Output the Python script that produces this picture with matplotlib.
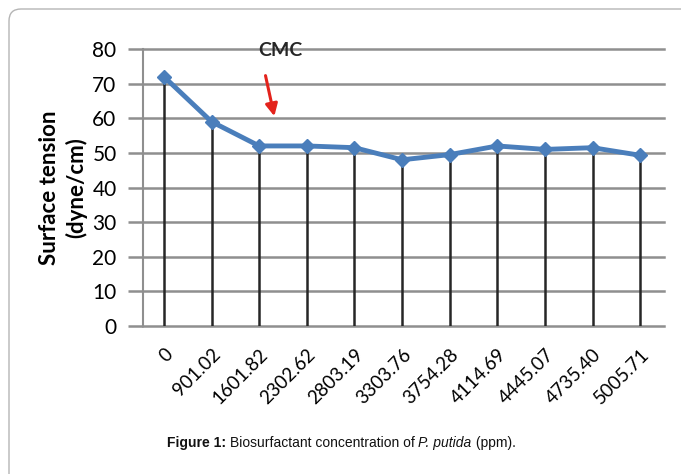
import numpy as np
import matplotlib.pyplot as plt
from matplotlib.patches import FancyBboxPatch

# data
concentration = ['0', '901.02', '1601.82', '2302.62', '2803.19', '3303.76',
                 '3754.28', '4114.69', '4445.07', '4735.40', '5005.71']
surface_tension = [72, 59, 52, 52, 51.5, 48, 49.5, 52, 51, 51.5, 49.3]
y_ticks = [0, 10, 20, 30, 40, 50, 60, 70, 80]

tick_font = 'Lato'
cap_font = 'Liberation Sans'

fig = plt.figure(figsize=(6.81, 4.74), dpi=100)
ax = fig.add_axes([143/681, 1-326/474, (664-143)/681, (326-49)/474])

x = np.arange(len(concentration))

# horizontal gridlines (Excel style)
for v in y_ticks:
    ax.axhline(v, color='#8f8f8f', lw=1.8, zorder=1, clip_on=False)

# drop lines from each point to the axis
ax.vlines(x, 0, surface_tension, color='#262626', lw=1.8, zorder=2)

ax.plot(x, surface_tension, color='#4a7ebb', lw=3.5, marker='D', markersize=7,
        markerfacecolor='#4a7ebb', markeredgecolor='#4a7ebb', zorder=3)

ax.set_xlim(-0.44, 10.5)
ax.set_ylim(0, 80)
ax.set_yticks(y_ticks)
ax.set_yticklabels([str(v) for v in y_ticks], fontsize=15, family=tick_font)
ax.set_xticks(x)
ax.set_xticklabels(concentration, rotation=45, ha='right', va='top',
                   rotation_mode='anchor', fontsize=13.5, family=tick_font)
ax.tick_params(axis='y', length=11, width=1.8, color='#8f8f8f', pad=8)
ax.tick_params(axis='x', length=0, pad=14)

for s in ['top', 'right', 'bottom']:
    ax.spines[s].set_visible(False)
ax.spines['left'].set_color('#8f8f8f')
ax.spines['left'].set_linewidth(1.5)

ax.set_ylabel('Surface tension\n(dyne/cm)', fontsize=16, fontweight='bold',
              family=tick_font, labelpad=4, linespacing=1.25)

# CMC annotation
ax.text(2.44, 79.5, 'CMC', ha='center', va='center', fontsize=14,
        fontweight='bold', family=tick_font, color='#262626', zorder=4)
ax.annotate('', xy=(2.33, 59.8), xytext=(2.12, 73.1),
            arrowprops=dict(arrowstyle='-|>', color='#e3231c', lw=2.2,
                            mutation_scale=18), zorder=4)

# caption, built from pieces: bold label, plain text, italic species
pieces = [('Figure 1: ', 'bold', 'normal'),
          ('Biosurfactant concentration of ', 'normal', 'normal'),
          ('P. putida', 'normal', 'italic'),
          (' (ppm).', 'normal', 'normal')]
renderer = fig.canvas.get_renderer()
texts = []
for s, w, st in pieces:
    t = fig.text(0, 1-443/474, s, fontsize=10, family=cap_font, fontweight=w,
                 style=st, color='#111111', va='center', ha='left')
    texts.append(t)
widths = [t.get_window_extent(renderer).width for t in texts]
left = 341 - sum(widths) / 2
for t, wdt in zip(texts, widths):
    t.set_x(left / 681)
    left += wdt

# rounded frame
frame = FancyBboxPatch((0.09, -0.5), 7.5, 4.65 + 0.5,
                       boxstyle='round,pad=0,rounding_size=0.12',
                       transform=fig.dpi_scale_trans, fill=False,
                       edgecolor='#b5b5b5', lw=1)
fig.patches.append(frame)

plt.savefig('out.png', dpi=100)
